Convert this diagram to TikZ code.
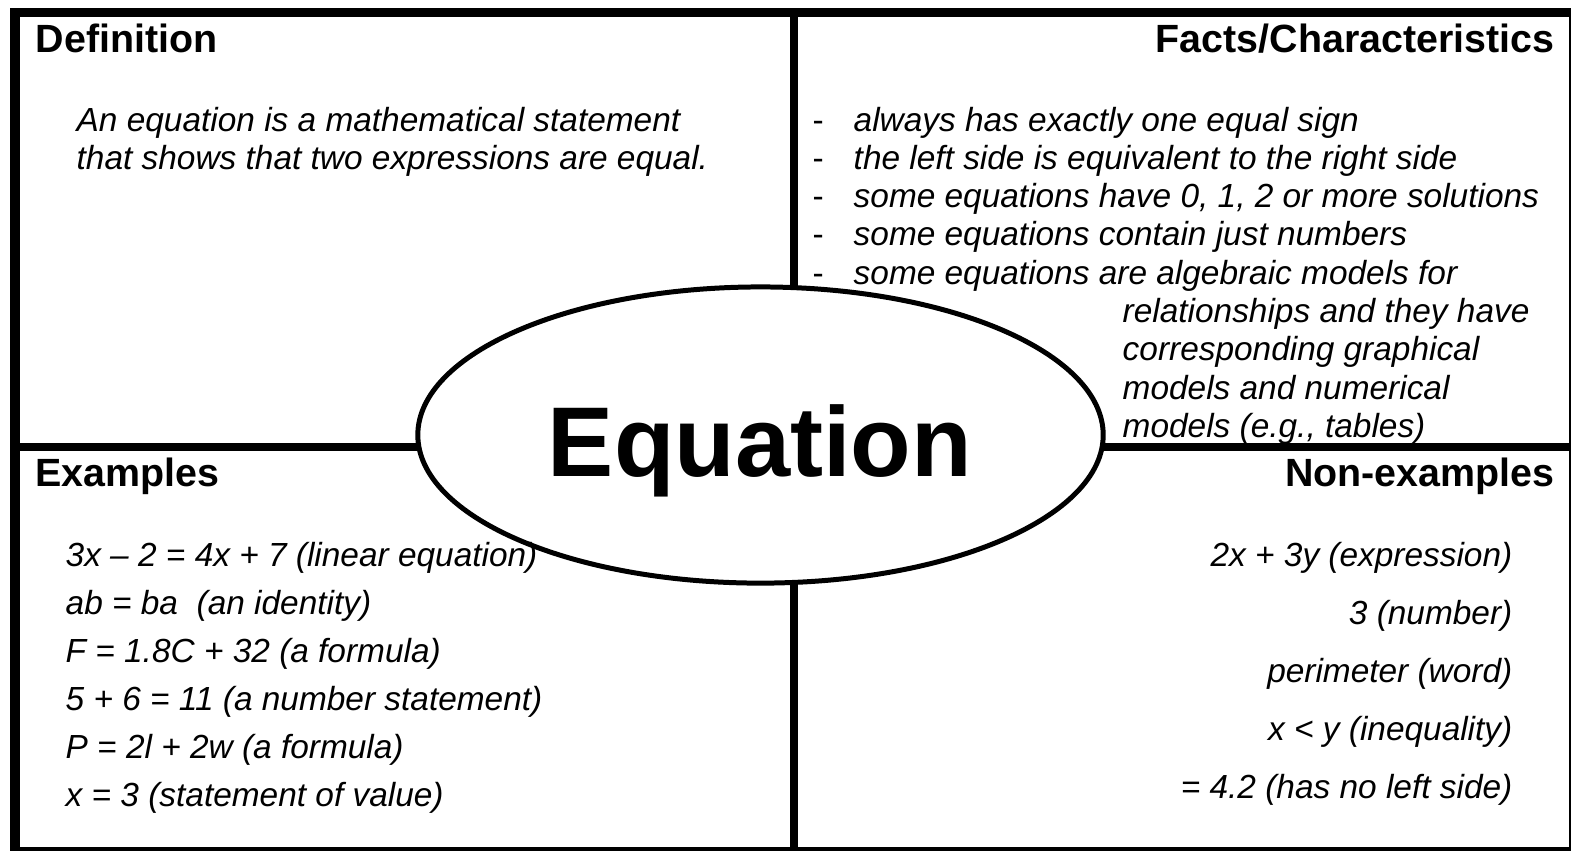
\documentclass[tikz,border=0pt]{standalone}
\usepackage{fontspec}
\setmainfont{Liberation Sans}
\usetikzlibrary{positioning, shapes.geometric}

\begin{document}
\begin{tikzpicture}[
        x=0.01cm, y=-0.01cm,
        frame/.style={draw, line width=2.56pt},
        divider/.style={draw, line width=2.28pt},
        concept/.style={ellipse, draw, fill=white, line width=1.42pt, minimum width=6.85cm, minimum height=2.96cm, inner sep=0pt},
        heading/.style={font=\fontsize{11.2}{13}\selectfont\bfseries, inner sep=0pt},
        body/.style={font=\fontsize{9.5}{11}\selectfont\itshape, inner sep=0pt, anchor=base west},
        bodyright/.style={body, anchor=base east},
        bullet/.style={font=\fontsize{9.5}{11}\selectfont, inner sep=0pt, anchor=base west}
    ]

        \useasboundingbox (0,0) rectangle (1571,850);
        \clip (0,0) rectangle (1571,850);

        % Frame and quadrants
        \coordinate (nw) at (15,12);
        \coordinate (se) at (1573,851);
        \coordinate (topmid) at (794,12);
        \coordinate (botmid) at (794,851);
        \coordinate (leftmid) at (15,447);
        \coordinate (rightmid) at (1573,447);

        \draw [frame] (nw) rectangle (se);
        \draw [divider] (topmid) -- (botmid);
        \draw [divider] (leftmid) -- (rightmid);

        % Centre
        \node [concept] (concept) at (760.5,435) {};
        \node [font=\fontsize{28.2}{32}\selectfont\bfseries, anchor=base, inner sep=0pt] (title) at (760,476) {Equation};

        % Headings
        \node [heading, anchor=base west] (def) at (35,52) {Definition};
        \node [heading, anchor=base east] (facts) at (1555,52) {Facts/Characteristics};
        \node [heading, anchor=base west] (ex) at (35,486) {Examples};
        \node [heading, anchor=base east] (nonex) at (1555,486) {Non-examples};

        % Definition
        \foreach \txt [count=\i from 0] in {An equation is a mathematical statement, that shows that two expressions are equal.}
            \node [body] (defline\i) at (76,{131+38.5*\i}) {\txt};

        % Facts
        \foreach \txt [count=\i from 0] in {always has exactly one equal sign, the left side is equivalent to the right side, {some equations have 0, 1, 2 or more solutions}, some equations contain just numbers, some equations are algebraic models for}
        {
            \node [bullet] (dash\i) at (812,{131+38.3*\i}) {-};
            \node [body] (fact\i) at (853,{131+38.3*\i}) {\txt};
        }
        \foreach \txt [count=\i from 5] in {relationships and they have, corresponding graphical, models and numerical, {models (e.g., tables)}}
            \node [body] (fact\i) at (1122,{131+38.3*\i}) {\txt};

        % Examples
        \foreach \txt [count=\i from 0] in {3x – 2 = 4x + 7 (linear equation), ab = ba~ (an identity), F = 1.8C + 32 (a formula), 5 + 6 = 11 (a number statement), P = 2l + 2w (a formula), x = 3 (statement of value)}
            \node [body] (example\i) at (65,{566+48*\i}) {\txt};

        % Non-examples
        \foreach \txt [count=\i from 0] in {2x + 3y (expression), 3 (number), perimeter (word), x < y (inequality), = 4.2 (has no left side)}
            \node [bodyright] (nonexample\i) at (1513,{566+58*\i}) {\txt};

    \end{tikzpicture}
\end{document}
